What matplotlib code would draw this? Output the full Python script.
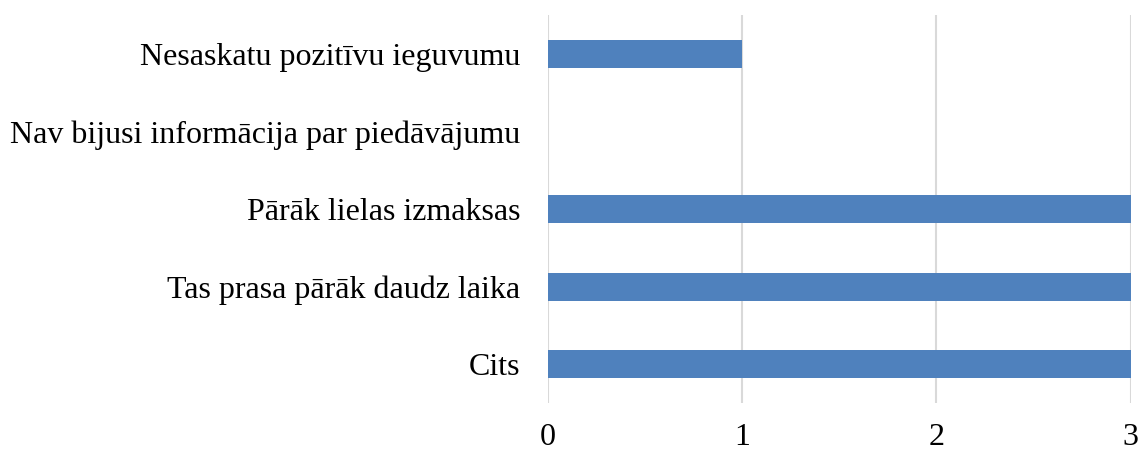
import matplotlib
matplotlib.use("Agg")
import matplotlib.pyplot as plt

categories = ["Cits", "Tas prasa pārāk daudz laika", "Pārāk lielas izmaksas",
              "Nav bijusi informācija par piedāvājumu", "Nesaskatu pozitīvu ieguvumu"]
values = [3, 3, 3, 0, 1]
xticks = [0, 1, 2, 3]

plt.rcParams['font.family'] = ['Liberation Serif', 'DejaVu Serif']

fig = plt.figure(figsize=(11.42, 4.53), dpi=100)
ax = fig.add_axes([0.48, 0.11, 0.51, 0.857])

y = range(len(categories))
ax.barh(list(y), values, height=0.36, color="#4F81BD", zorder=3)
ax.set_xlim(0, 3)
ax.set_ylim(-0.5, len(categories) - 0.5)
ax.set_xticks(xticks)
ax.set_xticklabels([str(t) for t in xticks], fontsize=23)
ax.set_yticks(list(y))
ax.set_yticklabels(categories, fontsize=23)
ax.grid(axis='x', color="#D9D9D9", linewidth=1.5, zorder=0)
for s in ax.spines.values():
    s.set_visible(False)
ax.tick_params(axis='both', length=0)
ax.tick_params(axis='x', pad=14)
ax.tick_params(axis='y', pad=20)

fig.savefig("out.png", dpi=100)
